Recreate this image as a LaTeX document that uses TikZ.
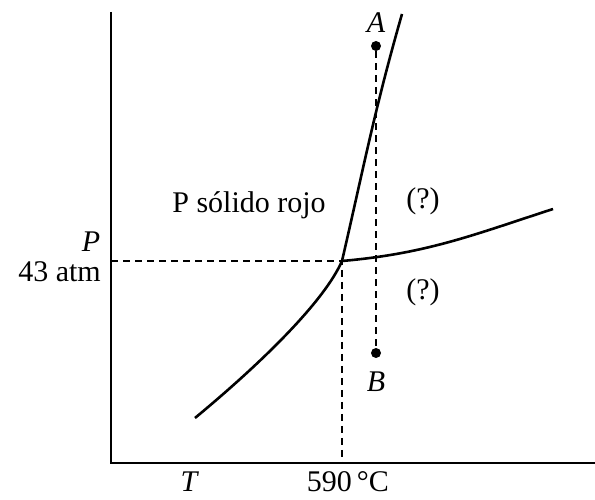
\documentclass[tikz,border=0pt]{standalone}
\usepackage{fontspec}
\setmainfont{Liberation Serif}
\begin{document}
\begin{tikzpicture}[x=1pt,y=1pt,
  curve/.style={line width=2.6pt},
  axis/.style={line width=1.8pt},
  guide/.style={line width=1.1pt,dash pattern=on 7pt off 5pt},
  lbl/.style={font=\fontsize{30}{33}\selectfont,inner sep=0pt,anchor=base},
  dot/.style={circle,fill=black,inner sep=0pt,minimum size=10pt}]
\useasboundingbox (0,0) rectangle (595,500);
% axes
\coordinate (O) at (111,37);
\coordinate (ytop) at (111,488);
\coordinate (xend) at (595,37);
\draw[axis] (ytop) -- (O) -- (xend);
% key points
\coordinate (tp) at (342,239);
\coordinate (yP) at (111,239);
\coordinate (xT) at (342,37);
\node[dot] (A) at (376,454) {};
\node[dot] (B) at (376,147) {};
% guides
\draw[guide] (yP) -- (tp) -- (xT);
\draw[guide] (A) -- (B);
% phase curves
\coordinate (sub) at (195,82);
\coordinate (fus) at (402,486);
\coordinate (vap) at (553,291);
\draw[curve] (sub) .. controls (265,140) and (325,200) .. (tp);
\draw[curve] (tp) to[out=77,in=254] (fus);
\draw[curve] (tp) to[out=5,in=198] (vap);
% labels
\node[lbl] (lA) at (376,467) {\itshape A};
\node[lbl] (lB) at (376,108) {\itshape B};
\node[lbl] (solid) at (249,287) {P sólido rojo};
\node[lbl] (q1) at (423,291) {(?)};
\node[lbl] (q2) at (423,200) {(?)};
\node[lbl] (lP) at (91,248) {\itshape P};
\node[lbl,anchor=base east] (latm) at (101,218) {43 atm};
\node[lbl] (lT) at (189,8) {\itshape T};
\node[lbl] (l590) at (348,8) {590\,°C};
\end{tikzpicture}
\end{document}
